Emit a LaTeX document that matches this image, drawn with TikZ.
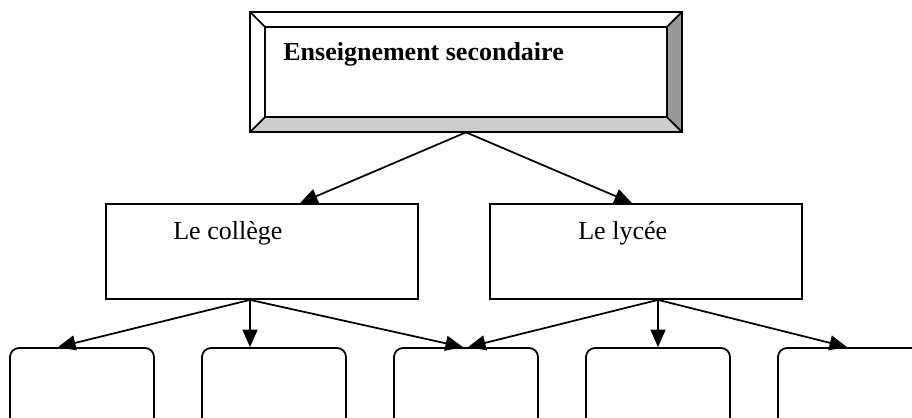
\documentclass[tikz,border=0pt]{standalone}
\usepackage{fontspec}
\setmainfont{Liberation Serif}
\usetikzlibrary{arrows.meta}

\tikzset{
	cadre/.style={draw, line width=1pt, inner sep=0pt, minimum width=6.24cm, minimum height=1.9cm},
	feuille/.style={draw, line width=1pt, inner sep=0pt, rounded corners=0.18cm, minimum width=2.88cm, minimum height=2cm},
	fleche/.style={line width=1pt, -{Triangle[length=10pt,width=8.5pt]}},
	texte/.style={anchor=base west, inner sep=0pt, font=\fontsize{14.8}{18}\selectfont}
}

\begin{document}
\begin{tikzpicture}[x=0.02cm, y=-0.02cm]
		%%%%% START %%%%%
		
		\useasboundingbox (0, 0) rectangle (912, 418);
		
		% boite en relief
		\node[minimum width=8.64cm, minimum height=2.4cm, inner sep=0pt] (sec) at (466, 72) {};
		\fill[black!20] (sec.south west) -- (sec.south east) -- ([shift={(-0.3cm,0.3cm)}]sec.south east) -- ([shift={(0.3cm,0.3cm)}]sec.south west) -- cycle;
		\fill[black!40] (sec.south east) -- (sec.north east) -- ([shift={(-0.3cm,-0.3cm)}]sec.north east) -- ([shift={(-0.3cm,0.3cm)}]sec.south east) -- cycle;
		\draw[line width=1pt] ([shift={(0.3cm,-0.3cm)}]sec.north west) rectangle ([shift={(-0.3cm,0.3cm)}]sec.south east);
		\draw[line width=1pt] (sec.north west) -- ([shift={(0.3cm,-0.3cm)}]sec.north west);
		\draw[line width=1pt] (sec.north east) -- ([shift={(-0.3cm,-0.3cm)}]sec.north east);
		\draw[line width=1pt] (sec.south west) -- ([shift={(0.3cm,0.3cm)}]sec.south west);
		\draw[line width=1pt] (sec.south east) -- ([shift={(-0.3cm,0.3cm)}]sec.south east);
		\draw[line width=1pt] (sec.north west) rectangle (sec.south east);
		\node[texte, font=\fontsize{14.8}{18}\selectfont\bfseries] (titre) at (283, 61) {Enseignement secondaire};
		
		\node[cadre] (college) at (262, 251.5) {};
		\node[texte] (tcollege) at (173, 240) {Le collège};
		\node[cadre] (lycee) at (646, 251.5) {};
		\node[texte] (tlycee) at (578, 240) {Le lycée};
		
		\node[feuille] (f1) at (82, 398) {};
		\node[feuille] (f2) at (274, 398) {};
		\node[feuille] (f3) at (466, 398) {};
		\node[feuille] (f4) at (658, 398) {};
		\node[feuille] (f5) at (850, 398) {};
		
		\draw[fleche] (sec.south) -- ([xshift=0.76cm]college.north);
		\draw[fleche] (sec.south) -- ([xshift=-0.28cm]lycee.north);
		
		\draw[fleche] ([xshift=-0.24cm]college.south) -- ([xshift=-0.48cm]f1.north);
		\draw[fleche] ([xshift=-0.24cm]college.south) -- ([xshift=-0.48cm]f2.north);
		\draw[fleche] ([xshift=-0.24cm]college.south) -- ([xshift=-0.06cm]f3.north);
		
		\draw[fleche] ([xshift=0.24cm]lycee.south) -- ([xshift=0.04cm]f3.north);
		\draw[fleche] ([xshift=0.24cm]lycee.south) -- (f4.north);
		\draw[fleche] ([xshift=0.24cm]lycee.south) -- ([xshift=-0.06cm]f5.north);
		
		%%%%% END %%%%%
\end{tikzpicture}
\end{document}
